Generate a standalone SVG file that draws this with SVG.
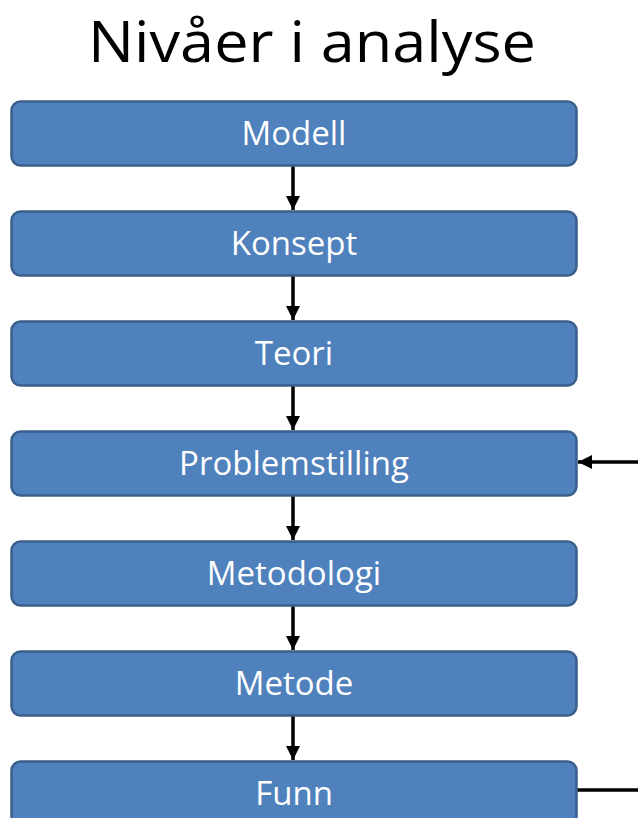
<svg xmlns="http://www.w3.org/2000/svg" width="638" height="818" viewBox="0 0 638 818">
  <style>
    .box { fill: #4F81BD; stroke: #3A5F8B; stroke-width: 2.5; }
    .lbl { fill: #FFFFFF; font-family: "Open Sans", "Liberation Sans", sans-serif; font-size: 33px; text-anchor: middle; }
    .title { fill: #000000; font-family: "Open Sans", "Liberation Sans", sans-serif; font-size: 56px; text-anchor: middle; }
    .conn { stroke: #000000; stroke-width: 3.5; fill: none; }
  </style>
  <defs>
    <marker id="arrow" viewBox="0 0 10 10" refX="10" refY="5" markerWidth="4" markerHeight="4" markerUnits="strokeWidth" orient="auto">
      <path d="M0,0 L10,5 L0,10 Z" fill="#000000"/>
    </marker>
  </defs>

  <rect x="0" y="0" width="638" height="818" fill="#FFFFFF"/>

  <text class="title" x="312" y="62" textLength="448" lengthAdjust="spacingAndGlyphs">Nivåer i analyse</text>

  <g id="connectors">
    <line class="conn" x1="293" y1="166" x2="293" y2="210" marker-end="url(#arrow)"/>
    <line class="conn" x1="293" y1="276" x2="293" y2="320" marker-end="url(#arrow)"/>
    <line class="conn" x1="293" y1="386" x2="293" y2="430" marker-end="url(#arrow)"/>
    <line class="conn" x1="293" y1="496" x2="293" y2="540" marker-end="url(#arrow)"/>
    <line class="conn" x1="293" y1="606" x2="293" y2="650" marker-end="url(#arrow)"/>
    <line class="conn" x1="293" y1="716" x2="293" y2="760" marker-end="url(#arrow)"/>
    <line class="conn" x1="638" y1="462" x2="578" y2="462" marker-end="url(#arrow)"/>
    <line class="conn" x1="577" y1="790" x2="638" y2="790"/>
  </g>

  <g id="modell">
    <rect class="box" x="11.5" y="101.5" width="565" height="64" rx="9"/>
    <text class="lbl" x="294" y="145">Modell</text>
  </g>
  <g id="konsept">
    <rect class="box" x="11.5" y="211.5" width="565" height="64" rx="9"/>
    <text class="lbl" x="294" y="255">Konsept</text>
  </g>
  <g id="teori">
    <rect class="box" x="11.5" y="321.5" width="565" height="64" rx="9"/>
    <text class="lbl" x="294" y="365">Teori</text>
  </g>
  <g id="problemstilling">
    <rect class="box" x="11.5" y="431.5" width="565" height="64" rx="9"/>
    <text class="lbl" x="294" y="475">Problemstilling</text>
  </g>
  <g id="metodologi">
    <rect class="box" x="11.5" y="541.5" width="565" height="64" rx="9"/>
    <text class="lbl" x="294" y="585">Metodologi</text>
  </g>
  <g id="metode">
    <rect class="box" x="11.5" y="651.5" width="565" height="64" rx="9"/>
    <text class="lbl" x="294" y="695">Metode</text>
  </g>
  <g id="funn">
    <rect class="box" x="11.5" y="761.5" width="565" height="64" rx="9"/>
    <text class="lbl" x="294" y="805">Funn</text>
  </g>
</svg>
